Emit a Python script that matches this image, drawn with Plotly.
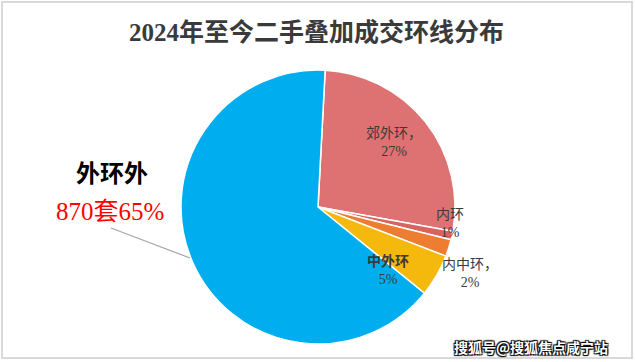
import plotly.graph_objects as go

labels = ["郊外环", "内环", "内中环", "中外环", "外环外"]
values = [27, 1, 2, 5, 65]
colors = ["#DE7272", "#D9635E", "#ED7D31", "#F4B90C", "#00AEEF"]
title = "2024年至今二手叠加成交环线分布"

W, H = 635, 362
cx, cy, r = 318, 207, 137

fig = go.Figure(go.Pie(
    labels=labels, values=values, sort=False, direction="clockwise", rotation=3,
    marker=dict(colors=colors, line=dict(color="white", width=1.5)),
    textinfo="none", hoverinfo="label+percent", showlegend=False,
    domain=dict(x=[(cx - r) / W, (cx + r) / W], y=[(H - cy - r) / H, (H - cy + r) / H]),
))

serif = "Liberation Serif, Noto Sans CJK SC, serif"
lab_font = dict(family=serif, size=14, color="#3A3A3A")

def px(x, y):
    return x / W, 1 - y / H

ann = []
def add(text, x, y, font, **kw):
    xx, yy = px(x, y)
    ann.append(dict(text=text, x=xx, y=yy, xref="paper", yref="paper", showarrow=False,
                    font=font, xanchor="center", yanchor="middle", **kw))

add(f"<b>{title}</b>", 316, 32, dict(family=serif, size=25, color="#3A3A3A"))
add(f"{labels[0]}，<br>{values[0]}%", 394, 142, lab_font)
add(f"{labels[1]}<br>{values[1]}%", 450, 223, lab_font)
add(f"{labels[2]}，<br>{values[2]}%", 470, 273, lab_font)
add(f"<b>{labels[3]}</b><br>{values[3]}%", 388, 270, lab_font)
add(f"<b>{labels[4]}</b>", 112, 174, dict(family=serif, size=24, color="#000000"))
add(f"870套{values[4]}%", 110, 211, dict(family=serif, size=25, color="#FF0000"))
add("<b>搜狐号@搜狐焦点咸宁站</b>", 531, 347,
    dict(family="Noto Sans CJK SC", size=14, color="white",
         shadow="1px 1px 1px #000, -1px -1px 1px #000, 1px -1px 1px #000, -1px 1px 1px #000"))

x0, y0 = px(111, 228)
x1, y1 = px(190, 258)
bx0, by0 = px(2, 2)
bx1, by1 = px(632, 358)
shapes = [
    dict(type="line", xref="paper", yref="paper", x0=x0, y0=y0, x1=x1, y1=y1,
         line=dict(color="#A6A6A6", width=1.2)),
    dict(type="rect", xref="paper", yref="paper", x0=bx0, y0=by0, x1=bx1, y1=by1,
         line=dict(color="#D9D9D9", width=2)),
]

fig.update_layout(width=W, height=H, margin=dict(l=0, r=0, t=0, b=0),
                  paper_bgcolor="white", plot_bgcolor="white",
                  annotations=ann, shapes=shapes)
fig.write_html("out.html", config={"displayModeBar": False},
               post_script="document.body.style.margin='0';document.body.style.overflow='hidden';")
